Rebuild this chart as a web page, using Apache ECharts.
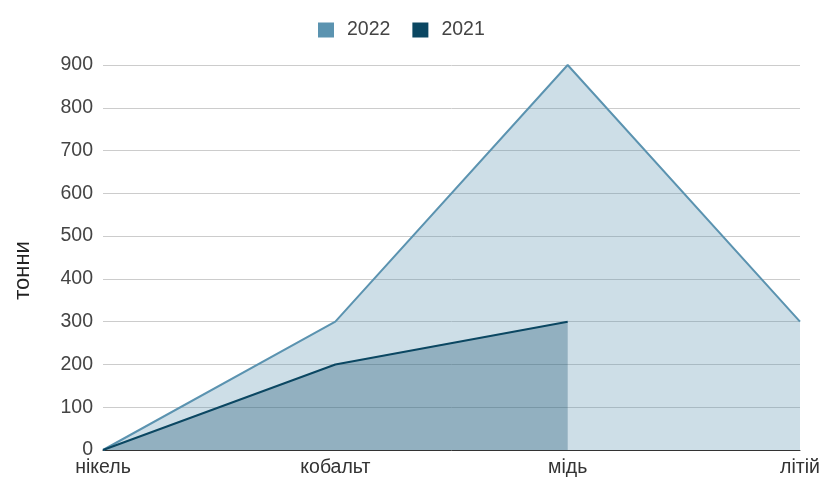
<!DOCTYPE html>
<html>
<head>
<meta charset="utf-8">
<script src="https://cdn.jsdelivr.net/npm/echarts@6/dist/echarts.min.js"></script>
<style>
  html, body { margin: 0; padding: 0; background: #fff; }
  #chart { width: 821px; height: 479px; }
</style>
</head>
<body>
<div id="chart"></div>
<script>
// Metals and tonnage per year
const categories = ['нікель', 'кобальт', 'мідь', 'літій'];
const values2022 = [0, 300, 900, 300];
const values2021 = [0, 200, 300, null];
const yTicks = { min: 0, max: 900, interval: 100 };

const color2022 = '#5b93b0';
const color2021 = '#0b4762';

const chart = echarts.init(document.getElementById('chart'));
chart.setOption({
  animation: false,
  textStyle: { fontFamily: '"Liberation Sans", Arial, sans-serif' },
  legend: {
    top: 15,
    left: 313,
    itemWidth: 16,
    itemHeight: 15,
    itemGap: 22,
    icon: 'rect',
    textStyle: { fontSize: 19.5, color: '#444', padding: [0, 0, 0, 8] },
    data: ['2022', '2021']
  },
  grid: { left: 103, right: 21, top: 65, bottom: 29, outerBoundsMode: 'none' },
  xAxis: {
    type: 'category',
    data: categories,
    boundaryGap: false,
    axisLine: { lineStyle: { color: '#333', width: 1 } },
    axisTick: { show: false },
    axisLabel: { fontSize: 19.5, color: '#333', margin: 8 }
  },
  yAxis: {
    type: 'value',
    min: yTicks.min,
    max: yTicks.max,
    interval: yTicks.interval,
    name: 'тонни',
    nameLocation: 'middle',
    nameGap: 69,
    nameTextStyle: { fontSize: 22, color: '#222', padding: [0, 26, 0, 0] },
    axisLine: { show: false },
    axisTick: { show: false },
    axisLabel: { fontSize: 19.5, color: '#444', margin: 10 },
    splitLine: { lineStyle: { color: '#ccc', width: 1 } }
  },
  series: [
    {
      name: '2022',
      type: 'line',
      data: values2022,
      symbol: 'none',
      color: color2022,
      lineStyle: { width: 2, color: color2022 },
      areaStyle: { color: color2022, opacity: 0.3 },
      z: 2
    },
    {
      name: '2021',
      type: 'line',
      data: values2021,
      symbol: 'none',
      color: color2021,
      lineStyle: { width: 2, color: color2021 },
      areaStyle: { color: color2021, opacity: 0.3 },
      z: 3
    }
  ]
});
</script>
</body>
</html>
